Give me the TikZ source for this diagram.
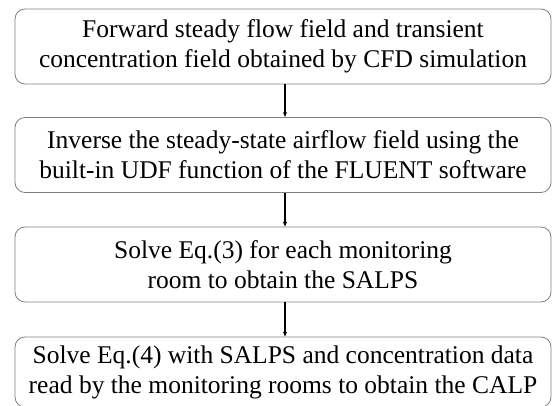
\documentclass[tikz,border=0pt]{standalone}
\usepackage{fontspec}
\setmainfont{Liberation Serif}
\usetikzlibrary{arrows.meta}
\begin{document}
\begin{tikzpicture}[x=1pt,y=-1pt,
  stepbox/.style={draw=black!50, line width=0.8pt, rounded corners=10pt,
    minimum width=536pt, minimum height=75pt, inner sep=0pt,
    align=center, font=\fontsize{25.5}{30}\selectfont},
  flow/.style={draw=black, line width=1.1pt, -{Stealth[length=5pt,width=4pt]}}]
\useasboundingbox (0,0) rectangle (552,405);
\clip (0,0) rectangle (552,405);
\node[stepbox] (b1) at (283,46.5) {Forward steady flow field and transient\\concentration field obtained by CFD simulation};
\node[stepbox] (b2) at (283,155) {Inverse the steady-state airflow field using the\\built-in UDF function of the FLUENT software};
\node[stepbox] (b3) at (283,264.5) {Solve Eq.(3) for each monitoring\\room to obtain the SALPS};
\node[stepbox, minimum height=70pt] (b4) at (283,372) {Solve Eq.(4) with SALPS and concentration data\\read by the monitoring rooms to obtain the CALP};
\draw[flow] ([xshift=2pt]b1.south) -- ([xshift=2pt]b2.north);
\draw[flow] ([xshift=2pt]b2.south) -- ([xshift=2pt]b3.north);
\draw[flow] ([xshift=2pt]b3.south) -- ([xshift=2pt]b4.north);
\end{tikzpicture}
\end{document}
